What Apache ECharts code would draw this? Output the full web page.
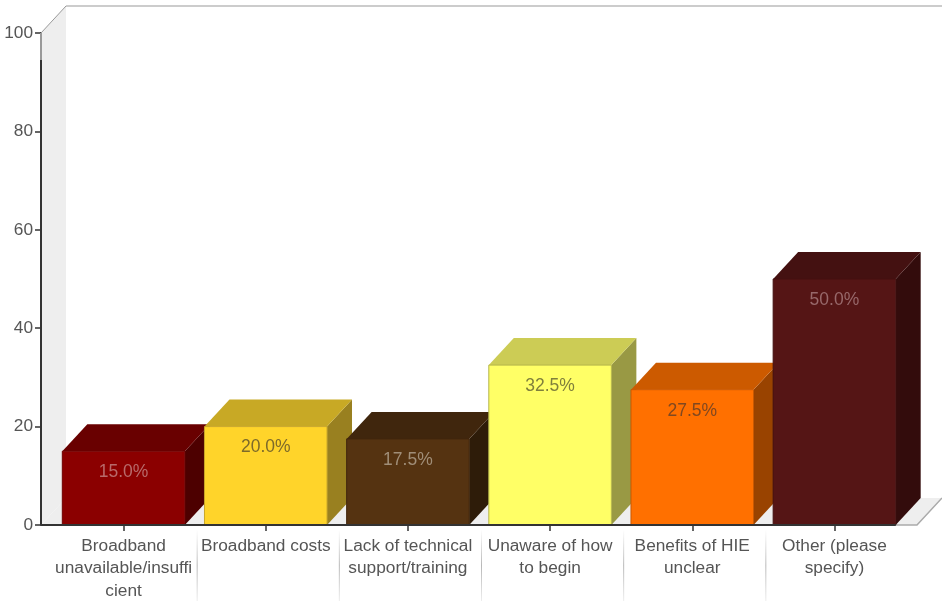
<!DOCTYPE html>
<html><head><meta charset="utf-8">
<style>html,body{margin:0;padding:0;background:#fff}#c{width:942px;height:601px;filter:blur(0.45px)}</style>
<script src="https://cdn.jsdelivr.net/npm/echarts@6/dist/echarts.min.js"></script>
</head><body><div id="c"></div>
<script>
var categories = ['Broadband\nunavailable/insuffi\ncient','Broadband costs','Lack of technical\nsupport/training','Unaware of how\nto begin','Benefits of HIE\nunclear','Other (please\nspecify)'];
var values = [15, 20, 17.5, 32.5, 27.5, 50];
var frontColors = ['#8b0000','#ffd42a','#553311','#ffff66','#ff7000','#551515'];
var topColors = ['#690000','#c8a925','#40260d','#cccc55','#cc5a00','#441111'];
var sideColors = ['#4d0000','#998020','#2e1c09','#999944','#994300','#330c0c'];
var borderColors = ['#6e0000','#c9a62a','#40260d','#b5b54a','#c95800','#441111'];
var labelColors = ['#b86a6a','#7d6a2a','#a08e78','#80803c','#804820','#97686a'];
var yTicks = [0,20,40,60,80,100];

var DX = 25, DY = 27;
var chart = echarts.init(document.getElementById('c'), null, {renderer:'canvas'});
var FONT = '"Liberation Sans"';

function renderBox(params, api){
  var i = api.value(0), v = api.value(1);
  var p0 = api.coord([i,0]), p1 = api.coord([i,v]);
  var w = api.size([1,0])[0]*0.862, l = p0[0]-w/2, r = p0[0]+w/2, b = p0[1], t = p1[1];
  return {type:'group',children:[
    {type:'polygon',shape:{points:[[r,t],[r+DX,t-DY],[r+DX,b-DY],[r,b]]},style:{fill:sideColors[i]}},
    {type:'polygon',shape:{points:[[l,t],[l+DX,t-DY],[r+DX,t-DY],[r,t]]},style:{fill:topColors[i]}},
    {type:'rect',shape:{x:l,y:t,width:w,height:b-t},style:{fill:frontColors[i],stroke:borderColors[i],lineWidth:1}},
    {type:'text',x:p0[0],y:t+21,style:{text:v.toFixed(1)+'%',fill:labelColors[i],font:'17.5px '+FONT,align:'center',verticalAlign:'middle'}}
  ]};
}
function renderWalls(params, api){
  var o = api.coord([0,0]), tp = api.coord([0,100]);
  var half = api.size([1,0])[0]/2;
  var x0 = 41, x1 = 917, y0 = o[1], y1 = tp[1];
  var kids = [
    {type:'polygon',shape:{points:[[x0,y0],[x0+DX,y0-DY],[x0+DX,y1-DY],[x0,y1]]},style:{fill:'#eeeeee'}},
    {type:'polygon',shape:{points:[[x0,y0],[x0+DX,y0-DY],[x1+DX,y0-DY],[x1,y0]]},style:{fill:'#eeeeee'}},
    {type:'polyline',shape:{points:[[x0,y1],[x0+DX,y1-DY],[x1+DX,y1-DY]]},style:{fill:null,stroke:'#999999',lineWidth:1}},
    {type:'line',shape:{x1:x0,y1:y1,x2:x0,y2:y1+27},style:{stroke:'#999999',lineWidth:2}},
    {type:'polyline',shape:{points:[[x0,y0],[x1,y0],[x1+DX,y0-DY]]},style:{fill:null,stroke:'#aaaaaa',lineWidth:1.5}}
  ];
  for (var i=0;i<categories.length-1;i++){
    var x = api.coord([i,0])[0]+half+2.5;
    kids.push({type:'line',shape:{x1:x,y1:y0+5,x2:x,y2:601},style:{lineWidth:1,stroke:{type:'linear',x:0,y:0,x2:0,y2:1,global:false,colorStops:[{offset:0,color:'#ffffff'},{offset:0.5,color:'#b8b8b8'},{offset:1,color:'#eeeeee'}]}}});
  }
  return {type:'group',children:kids};
}
function renderBaseline(params, api){
  var n = categories.length-1, half = api.size([1,0])[0]*0.431;
  var y = api.coord([0,0])[1], yTop = api.coord([0,100])[1];
  return {type:'group',children:[
    {type:'line',shape:{x1:41,y1:y,x2:api.coord([n,0])[0]+half,y2:y},style:{stroke:'#333333',lineWidth:2}},
    {type:'line',shape:{x1:41,y1:y,x2:41,y2:yTop+27},style:{stroke:'#333333',lineWidth:2}}
  ]};
}
chart.setOption({
  animation:false,
  grid:{left:52.5,width:853,top:33,height:492,containLabel:false,outerBoundsMode:'none'},
  xAxis:{type:'category',data:categories,
    axisLine:{show:false},
    axisTick:{show:true,alignWithLabel:true,length:6,lineStyle:{color:'#333333',width:1.5},interval:0},
    axisLabel:{interval:0,color:'#555555',fontFamily:FONT,fontSize:17.3,lineHeight:22.3,margin:10},
    splitLine:{show:false}},
  yAxis:{type:'value',min:0,max:100,interval:20,offset:11.5,
    axisLine:{show:true,lineStyle:{color:'#333333',width:2}},
    axisTick:{show:true,length:6,lineStyle:{color:'#333333',width:1.5}},
    axisLabel:{color:'#555555',fontFamily:FONT,fontSize:17.3,margin:8,
      formatter:function(v){return yTicks.indexOf(v)>=0?String(v):'';}},
    splitLine:{show:false}},
  series:[
    {type:'custom',z:1,silent:true,data:[[0,0]],renderItem:renderWalls,clip:false},
    {type:'custom',z:2,silent:true,data:values.map(function(v,i){return [i,v];}),encode:{x:0,y:1},renderItem:renderBox,clip:false},
    {type:'custom',z:3,silent:true,data:[[0,0]],renderItem:renderBaseline,clip:false}
  ]
});
</script></body></html>
